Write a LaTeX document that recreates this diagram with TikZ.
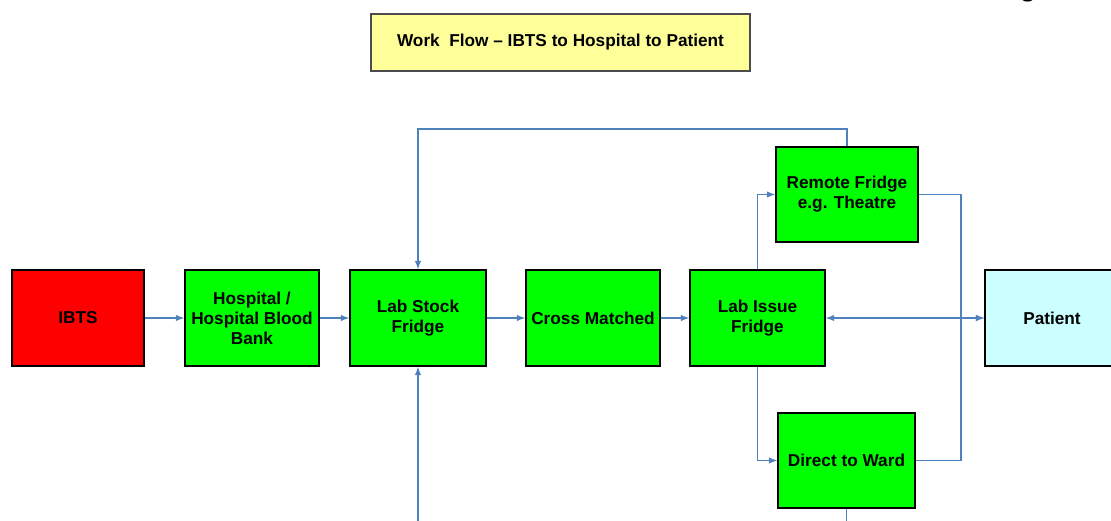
\documentclass[tikz,border=0pt]{standalone}
\usepackage{fontspec}
\setmainfont{Liberation Sans}
\usetikzlibrary{arrows.meta}
\definecolor{flowline}{RGB}{79,129,189}
\definecolor{boxgreen}{RGB}{0,255,0}
\definecolor{boxred}{RGB}{255,0,0}
\definecolor{boxyellow}{RGB}{255,255,153}
\definecolor{boxcyan}{RGB}{204,255,255}
\tikzset{
  stage/.style={draw=black, thick, align=center, inner sep=1pt,
    minimum width=2.7cm, minimum height=1.92cm,
    font=\fontsize{9.8}{11.4}\selectfont\bfseries},
  flow/.style={draw=flowline, line width=0.6pt}
}
\begin{document}
\begin{tikzpicture}[>={Latex[length=1.7mm,width=1.3mm]}]
  \useasboundingbox (0,0) rectangle (22.22,-10.42);
  % Title
  \node[stage, fill=boxyellow, draw=black!70, minimum width=7.58cm, minimum height=1.14cm] (title) at (11.21,-0.85) {Work\ \ Flow -- IBTS to Hospital to Patient};
  \node[anchor=base, font=\fontsize{18}{18}\selectfont] (pagemark) at (20.56,0.08) {g};
  % Boxes
  \node[stage, fill=boxred, minimum width=2.64cm] (ibts) at (1.56,-6.36) {IBTS};
  \node[stage, fill=boxgreen, minimum width=2.68cm] (hosp) at (5.04,-6.36) {Hospital /\\Hospital Blood\\Bank};
  \node[stage, fill=boxgreen, minimum width=2.72cm] (stock) at (8.36,-6.36) {Lab Stock\\Fridge};
  \node[stage, fill=boxgreen, minimum width=2.68cm] (cross) at (11.86,-6.36) {Cross Matched};
  \node[stage, fill=boxgreen] (issue) at (15.15,-6.36) {Lab Issue\\Fridge};
  \node[stage, fill=boxgreen, minimum width=2.84cm, minimum height=1.9cm] (remote) at (16.94,-3.89) {Remote Fridge\\e.g. Theatre};
  \node[stage, fill=boxgreen, minimum width=2.74cm, minimum height=1.9cm] (ward) at (16.93,-9.21) {Direct to Ward};
  \node[stage, fill=boxcyan, minimum width=2.68cm] (patient) at (21.04,-6.36) {Patient};
  % Points for the loose ends
  \coordinate (bus) at (19.22,-6.36);
  \coordinate (toploop) at (16.94,-2.58);
  \coordinate (stockin) at (8.36,-10.42);
  \coordinate (wardout) at (16.93,-10.42);
  % Arrows
  \draw[flow, ->] (ibts) -- (hosp);
  \draw[flow, ->] (hosp) -- (stock);
  \draw[flow, ->] (stock) -- (cross);
  \draw[flow, ->] (cross) -- (issue);
  \draw[flow, <->] (issue) -- (patient);
  \draw[flow, ->] (issue.north) |- (remote.west);
  \draw[flow, ->] (issue.south) |- (ward.west);
  \draw[flow] (remote.east) -| (bus) |- (ward.east);
  \draw[flow, ->] (bus) -- (patient.west);
  \draw[flow, ->] (remote.north) -- (toploop) -| (stock.north);
  \draw[flow, ->] (stockin) -- (stock.south);
  \draw[flow] (ward.south) -- (wardout);
\end{tikzpicture}
\end{document}
